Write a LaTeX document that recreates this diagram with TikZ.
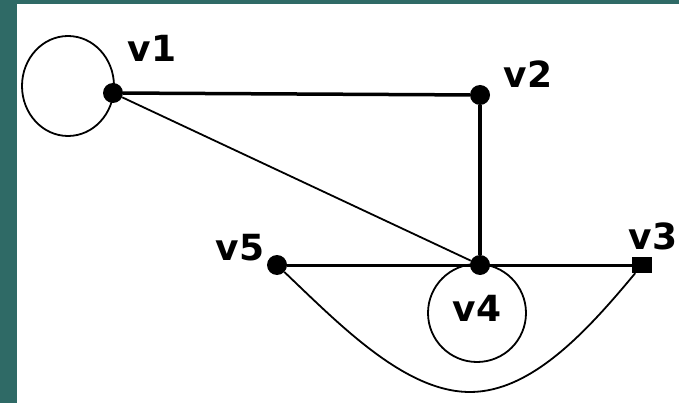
\documentclass[tikz,border=0pt]{standalone}
\usepackage{fontspec}
\setmainfont{DejaVu Sans}
\definecolor{frameteal}{HTML}{2F6A66}
\tikzset{
  vertex/.style={circle,fill=black,inner sep=0pt,minimum size=20pt},
  sqvertex/.style={rectangle,fill=black,inner sep=0pt,minimum width=20pt,minimum height=16pt},
  vlabel/.style={font=\fontsize{36}{36}\selectfont\bfseries,inner sep=0pt},
  heavy/.style={line width=3.5pt},
  light/.style={line width=1.8pt}
}
\begin{document}
\begin{tikzpicture}[x=1pt,y=-1pt]
      \fill[frameteal] (0,0) rectangle (679,403);
      \fill[white] (17,4) rectangle (679,403);
      \useasboundingbox (0,0) rectangle (679,403);
      \draw
        (113,93) node[vertex] (v1){}
        (480,95) node[vertex] (v2){}
        (642,265) node[sqvertex] (v3){}
        (480,265) node[vertex] (v4){}
        (277,265) node[vertex] (v5){};
      \draw
        (152,48) node[vlabel] (l1){v1}
        (528,74) node[vlabel] (l2){v2}
        (653,236) node[vlabel] (l3){v3}
        (477,308) node[vlabel] (l4){v4}
        (240,248) node[vlabel] (l5){v5};
      \begin{scope}[-]
        \draw[heavy] (v1) to (v2);
        \draw[heavy] (v2) to (v4);
        \draw[line width=3pt] (v5) to (v3);
        \draw[light] (v1) to (v4);
        \draw[light] (v5) .. controls (340,325) and (405,392) .. (470,392)
          .. controls (532,392) and (588,330) .. (v3);
        \draw[light] (v1.center) ++(-45,-7) ellipse (46 and 50);
        \draw[light] (v4.center) ++(-3,48) circle (49);
      \end{scope}
    \end{tikzpicture}
\end{document}
